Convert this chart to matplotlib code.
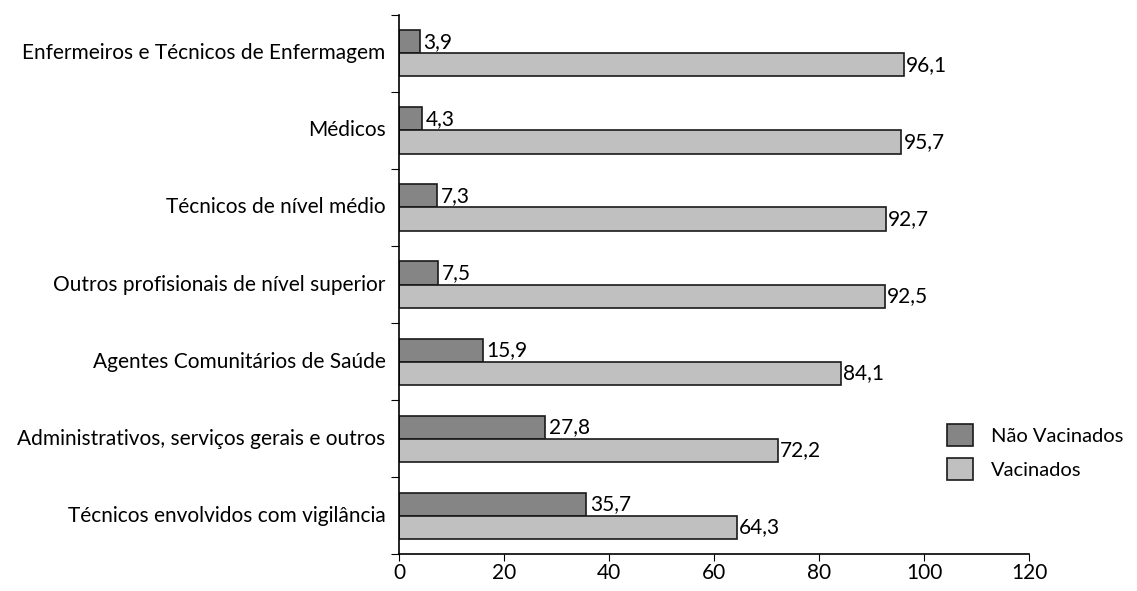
import numpy as np
from matplotlib import pyplot as plt

categorias = ["Enfermeiros e Técnicos de Enfermagem", "Médicos", "Técnicos de nível médio",
              "Outros profisionais de nível superior", "Agentes Comunitários de Saúde",
              "Administrativos, serviços gerais e outros", "Técnicos envolvidos com vigilância"]
nao_vacinados = [3.9, 4.3, 7.3, 7.5, 15.9, 27.8, 35.7]
vacinados = [96.1, 95.7, 92.7, 92.5, 84.1, 72.2, 64.3]

plt.rcParams['font.family'] = ['Lato', 'DejaVu Sans']

fig = plt.figure(figsize=(11.37, 5.91), dpi=100)
ax = fig.add_axes([0.351, 0.062, 0.554, 0.913])

n = len(categorias)
y = np.arange(n)[::-1] + 0.5
h = 0.3

b1 = ax.barh(y + h / 2, nao_vacinados, height=h, color="#858585", edgecolor="#1a1a1a", linewidth=1.2, label="Não Vacinados")
b2 = ax.barh(y - h / 2, vacinados, height=h, color="#c0c0c0", edgecolor="#1a1a1a", linewidth=1.2, label="Vacinados")

for yy, v in zip(y + h / 2, nao_vacinados):
    ax.text(v + 0.7, yy, f"{v:.1f}".replace(".", ","), va="center", ha="left", fontsize=15)
for yy, v in zip(y - h / 2, vacinados):
    ax.text(v + 0.4, yy, f"{v:.1f}".replace(".", ","), va="center", ha="left", fontsize=15)

for yy, c in zip(y, categorias):
    ax.text(-2.6, yy, c, va="center", ha="right", fontsize=15)

ax.set_xlim(0, 120)
ax.set_ylim(0, n)
ax.set_xticks(range(0, 121, 20))
ax.set_yticks(range(0, n + 1))
ax.set_yticklabels([])
ax.tick_params(axis="x", labelsize=15, length=5, pad=1, direction="out")
ax.tick_params(axis="y", length=6, direction="out")
for s in ["top", "right"]:
    ax.spines[s].set_visible(False)
ax.spines["left"].set_linewidth(1.2)
ax.spines["bottom"].set_linewidth(1.2)

fig.legend(handles=[b1, b2], loc="center left", bbox_to_anchor=(0.817, 0.235), frameon=False,
           fontsize=14.5, handlelength=1.3, handleheight=1.3, labelspacing=0.6, handletextpad=0.9)

fig.savefig("out.png", dpi=100)
